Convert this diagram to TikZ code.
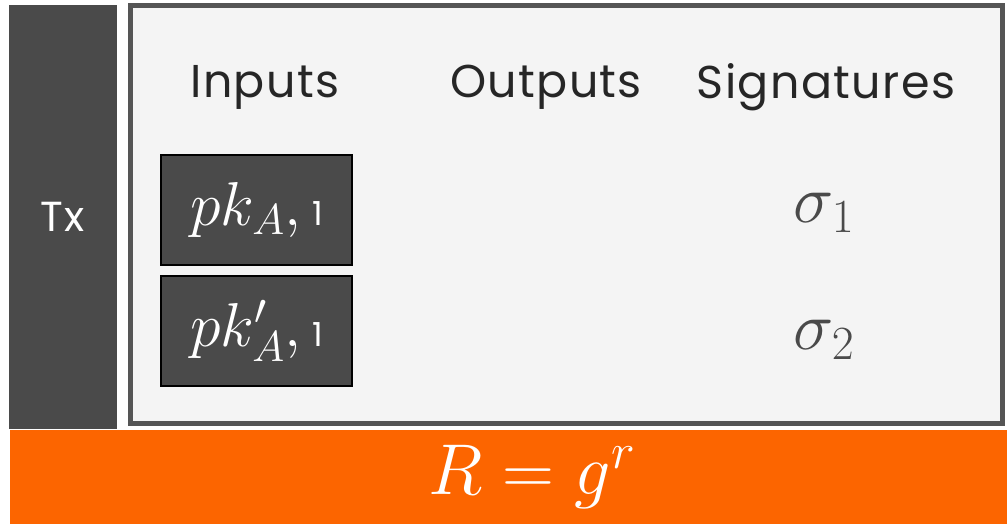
\documentclass[tikz,border=0pt]{standalone}
\usepackage{fix-cm}
\usepackage{fontspec}
\setmainfont{Poppins}[LetterSpace=3]
\usetikzlibrary{positioning}
\definecolor{txgray}{HTML}{4A4A4A}
\definecolor{panelbg}{HTML}{F4F4F4}
\definecolor{panelline}{HTML}{555555}
\definecolor{rorange}{HTML}{FC6500}
\newcommand{\bigsans}{\fontsize{46}{50}\selectfont}
\tikzset{
  txbar/.style={fill=txgray,inner sep=0pt,minimum width=108pt,minimum height=424pt,text=white,font=\fontsize{42}{50}\selectfont},
  panel/.style={draw=panelline,line width=5pt,fill=panelbg,inner sep=0pt,minimum width=872pt,minimum height=418pt},
  inbox/.style={draw=black,line width=2pt,fill=txgray,inner sep=0pt,minimum width=191pt,minimum height=110pt,text=white,font=\fontsize{62}{70}\selectfont},
  header/.style={text=black!85,font=\bigsans},
  sig/.style={text=txgray,font=\fontsize{68}{80}\selectfont},
  rbar/.style={fill=rorange,inner sep=0pt,minimum width=997pt,minimum height=94pt,text=white,font=\fontsize{72}{84}\selectfont}
}
\begin{document}
\begin{tikzpicture}[x=1pt,y=-1pt]
  \useasboundingbox (0,0) rectangle (1007,526);
  % transaction frame
  \node[txbar] (tx) at (63,217) {Tx};
  \node[panel] (body) at (566.5,214.5) {};
  \node[rbar] (rval) at (508.5,477) {};
  \node[text=white,font=\fontsize{72}{84}\selectfont] (req) at (532,477) {$R = g^r$};
  % column titles
  \node[header] (inputs) at (265,87) {Inputs};
  \node[header] (outputs) at (546,87) {Outputs};
  \node[header] (sigs) at (826,87) {Signatures};
  % inputs and their signatures
  \node[inbox] (in1) at (256.5,210) {$pk_A,$\,\scalebox{0.72}{\bigsans 1}};
  \node[inbox] (in2) at (256.5,331) {$pk'_A,$\,\scalebox{0.72}{\bigsans 1}};
  \node[sig] (sig1) at (824,213) {$\sigma_1$};
  \node[sig] (sig2) at (824,340) {$\sigma_2$};
\end{tikzpicture}
\end{document}
